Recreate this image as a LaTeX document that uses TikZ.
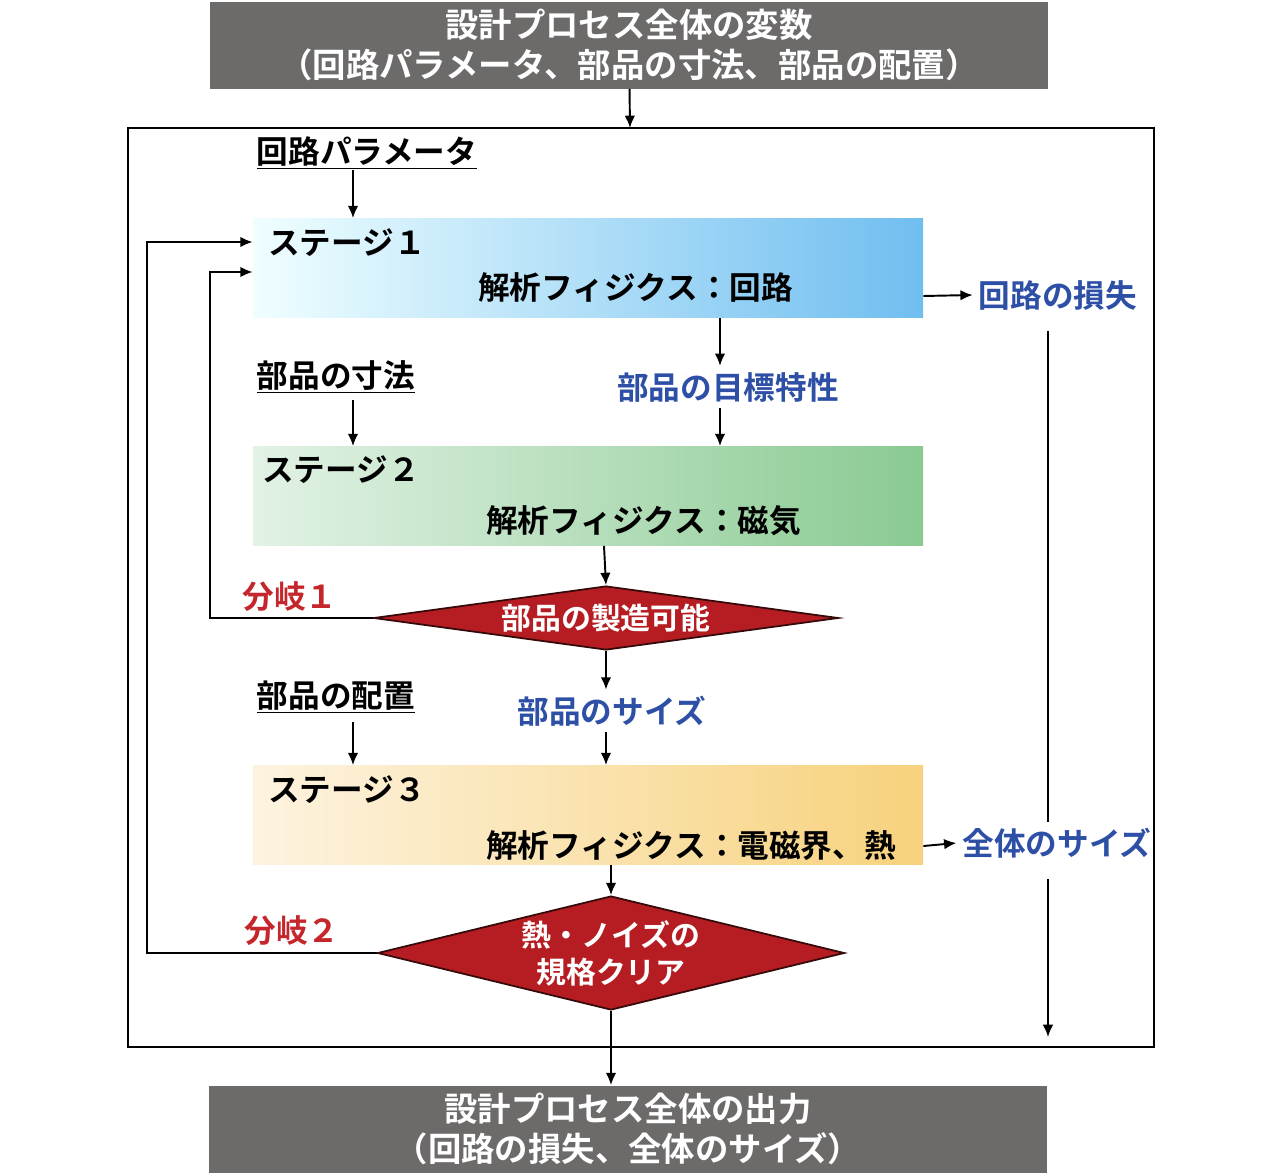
\documentclass[tikz,border=0pt]{standalone}
\usepackage{fontspec}
\setmainfont{Noto Sans CJK JP}[BoldFont={* Bold}]
\usetikzlibrary{arrows.meta,shapes.geometric}
\definecolor{boxgray}{HTML}{6D6A6A}
\definecolor{dred}{HTML}{B51D22}
\definecolor{dblue}{HTML}{2D4FA5}
\definecolor{lred}{HTML}{C4262C}
\tikzset{
  conn/.style={line width=1.1pt, -{Latex[length=7pt,width=6pt]}},
  line/.style={line width=1.1pt},
  endbox/.style={fill=boxgray, text=white, align=center, font=\bfseries\fontsize{19}{23}\selectfont,
    minimum width=167.6mm, minimum height=17.4mm, inner sep=0pt},
  stagebox/.style={minimum width=134mm, minimum height=19.8mm, inner sep=0pt},
  stagetxt/.style={anchor=west, font=\bfseries\fontsize{18}{22}\selectfont},
  param/.style={font=\bfseries\fontsize{18}{22}\selectfont},
  result/.style={text=dblue, font=\bfseries\fontsize{18}{22}\selectfont},
  branch/.style={text=lred, font=\bfseries\fontsize{18}{22}\selectfont},
  judge/.style={diamond, fill=dred, draw=black!70!dred, line width=1pt, text=white, inner sep=0pt,
    align=center, font=\bfseries\fontsize{17}{21}\selectfont}
}
\newcommand{\stage}[6]{\node[stagebox, left color=#3, right color=#4] (#1) at (588,#2) {};
  \node[stagetxt] (#1t) at (262,#2-48) {ステージ#5};
  \node[stagetxt, anchor=east] (#1p) at (#6,#2+22) {解析フィジクス：};}
\begin{document}
\begin{tikzpicture}[x=0.2mm, y=-0.2mm]
    \useasboundingbox (0,0) rectangle (1284,1176);
    % input and output
    \node[endbox] (inp) at (629,45) {設計プロセス全体の変数\\（回路パラメータ、部品の寸法、部品の配置）};
    \node[endbox] (outp) at (628,1129) {設計プロセス全体の出力\\（回路の損失、全体のサイズ）};
    \draw[line width=1pt] (128,128) rectangle (1154,1047);
    \coordinate (ftop) at (630,128);
    \draw[conn] (inp) -- (ftop);
    % stage 1
    \node[stagebox, left color=blue!4!cyan!6, right color={rgb,255:red,112;green,190;blue,240}] (st1) at (588,268) {};
    \node[stagetxt] (st1t) at (262,243) {ステージ１};
    \node[stagetxt] (st1p) at (472,288) {解析フィジクス：回路};
    \node[param] (p1) at (367,153) {\underline{回路パラメータ}};
    \draw[conn] (353,170) -- (st1.north -| 353,0);
    \node[result] (r1) at (1058,295) {回路の損失};
    \draw[conn] (st1.east |- 0,296) -- (r1.west);
    \node[result] (tgt) at (728,387) {部品の目標特性};
    \draw[conn] (st1.south -| 720,0) -- (tgt.north -| 720,0);
    % stage 2
    \node[stagebox, left color={rgb,255:red,226;green,242;blue,229}, right color={rgb,255:red,138;green,202;blue,146}] (st2) at (588,496) {};
    \node[stagetxt] (st2t) at (256,470) {ステージ２};
    \node[stagetxt] (st2p) at (480,521) {解析フィジクス：磁気};
    \node[param] (p2) at (336,377) {\underline{部品の寸法}};
    \draw[conn] (353,400) -- (st2.north -| 353,0);
    \draw[conn] (tgt.south -| 720,0) -- (st2.north -| 720,0);
    % branch 1
    \node[judge, aspect=7.3, minimum width=93mm, minimum height=12.8mm] (d1) at (606,618) {部品の製造可能};
    \node[branch] (b1) at (290,597) {分岐１};
    \draw[conn] (st2.south -| 604,0) -- (d1.north);
    \draw[conn] (d1.west) -- (210,618) -- (210,272) -- (st1.west |- 0,272);
    \node[result] (sz) at (612,711) {部品のサイズ};
    \draw[conn] (d1.south) -- (sz.north -| d1.south);
    % stage 3
    \node[stagebox, left color={rgb,255:red,253;green,243;blue,224}, right color={rgb,255:red,247;green,210;blue,125}] (st3) at (588,815) {};
    \node[stagetxt] (st3t) at (262,790) {ステージ３};
    \node[stagetxt] (st3p) at (480,846) {解析フィジクス：電磁界、熱};
    \node[param] (p3) at (336,697) {\underline{部品の配置}};
    \draw[conn] (353,722) -- (st3.north -| 353,0);
    \draw[conn] (sz.south -| d1.south) -- (st3.north -| d1.south);
    \node[result] (r2) at (1057,843) {全体のサイズ};
    \draw[conn] (st3.east |- 0,846) -- (r2.west);
    % branch 2
    \node[judge, aspect=4.1, minimum width=93.4mm, minimum height=22.8mm] (d2) at (611,953) {熱・ノイズの\\規格クリア};
    \node[branch] (b2) at (292,931) {分岐２};
    \draw[conn] (st3.south -| d2.north) -- (d2.north);
    \draw[conn] (d2.west) -- (147,953) -- (147,242) -- (st1.west |- 0,242);
    \draw[conn] (d2.south) -- (outp.north -| d2.south);
    % result line
    \draw[line] (r1.south -| 1048,0) ++(0,15) -- (r2.north -| 1048,0);
    \coordinate (rend) at (1048,1037);
    \draw[conn] (r2.south -| 1048,0) ++(0,15) -- (rend);
\end{tikzpicture}
\end{document}
